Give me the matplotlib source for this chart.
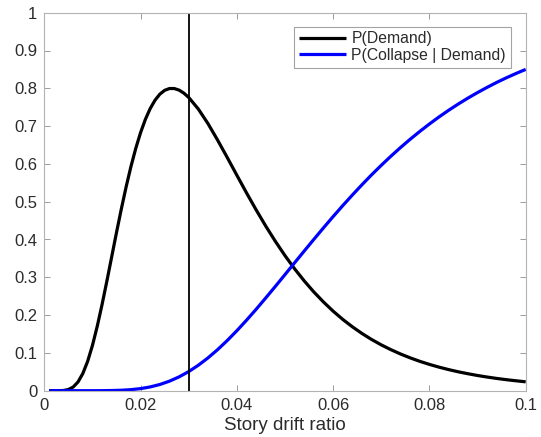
import matplotlib
matplotlib.use("Agg")
import matplotlib.pyplot as plt

plt.rcParams['font.family'] = ['Liberation Sans', 'DejaVu Sans']

# Story drift ratio values (x) for each curve
x_demand = [0.001, 0.002, 0.003, 0.004, 0.005, 0.006, 0.007, 0.008, 0.009, 0.010,
            0.011, 0.012, 0.013, 0.014, 0.015, 0.016, 0.017, 0.018, 0.019, 0.020,
            0.021, 0.022, 0.023, 0.024, 0.025, 0.026, 0.027, 0.028, 0.029, 0.030,
            0.032, 0.034, 0.036, 0.038, 0.040, 0.042, 0.044, 0.046, 0.048, 0.050,
            0.052, 0.054, 0.056, 0.058, 0.060, 0.062, 0.064, 0.066, 0.068, 0.070,
            0.072, 0.074, 0.076, 0.078, 0.080, 0.082, 0.084, 0.086, 0.088, 0.090,
            0.092, 0.094, 0.096, 0.098, 0.100]
p_demand = [0.0, 0.0, 0.0, 0.0006, 0.0031, 0.0097, 0.0231, 0.0454, 0.0776, 0.1197,
            0.1705, 0.2281, 0.2901, 0.3543, 0.4186, 0.4808, 0.5394, 0.5931, 0.6411, 0.6828,
            0.7179, 0.7465, 0.7685, 0.7845, 0.7946, 0.7994, 0.7994, 0.7952, 0.7871, 0.7758,
            0.7451, 0.7066, 0.6630, 0.6170, 0.5700, 0.5235, 0.4785, 0.4355, 0.3951, 0.3573,
            0.3224, 0.2904, 0.2611, 0.2346, 0.2104, 0.1886, 0.1690, 0.1513, 0.1354, 0.1212,
            0.1085, 0.0971, 0.0869, 0.0777, 0.0696, 0.0623, 0.0558, 0.0500, 0.0449, 0.0402,
            0.0361, 0.0324, 0.0291, 0.0262, 0.0235]

x_collapse = [0.001, 0.004, 0.008, 0.010, 0.012, 0.014, 0.016, 0.018, 0.020,
              0.022, 0.024, 0.026, 0.028, 0.030, 0.032, 0.034, 0.036, 0.038, 0.040,
              0.042, 0.044, 0.046, 0.048, 0.050, 0.052, 0.054, 0.056, 0.058, 0.060,
              0.062, 0.064, 0.066, 0.068, 0.070, 0.072, 0.074, 0.076, 0.078, 0.080,
              0.082, 0.084, 0.086, 0.088, 0.090, 0.092, 0.094, 0.096, 0.098, 0.100]
p_collapse = [0.0, 0.0, 0.0, 0.0, 0.0001, 0.0005, 0.0012, 0.0028, 0.0055,
              0.0100, 0.0164, 0.0252, 0.0366, 0.0506, 0.0674, 0.0868, 0.1086, 0.1327, 0.1587,
              0.1864, 0.2153, 0.2454, 0.2760, 0.3072, 0.3385, 0.3696, 0.4005, 0.4309, 0.4607,
              0.4897, 0.5178, 0.5450, 0.5713, 0.5963, 0.6204, 0.6433, 0.6652, 0.6859, 0.7056,
              0.7243, 0.7419, 0.7585, 0.7741, 0.7888, 0.8026, 0.8157, 0.8279, 0.8393, 0.8500]

threshold = 0.03

x_ticks = [0, 0.02, 0.04, 0.06, 0.08, 0.1]
x_tick_labels = ['0', '0.02', '0.04', '0.06', '0.08', '0.1']
y_ticks = [0, 0.1, 0.2, 0.3, 0.4, 0.5, 0.6, 0.7, 0.8, 0.9, 1]
y_tick_labels = ['0', '0.1', '0.2', '0.3', '0.4', '0.5', '0.6', '0.7', '0.8', '0.9', '1']

fig = plt.figure(figsize=(5.41, 4.37), dpi=100)
ax = fig.add_axes([44.3 / 541, 46.3 / 437, (525.7 - 44.3) / 541, (390.7 - 12.7) / 437])

ax.plot(x_demand, p_demand, color='black', lw=2.3, label='P(Demand)', solid_capstyle='butt')
ax.plot(x_collapse, p_collapse, color='#0000ff', lw=2.3, label='P(Collapse | Demand)', solid_capstyle='butt')
ax.axvline(threshold, color='black', lw=1.3)

ax.set_xlim(0, 0.1)
ax.set_ylim(0, 1)
ax.set_xticks(x_ticks)
ax.set_xticklabels(x_tick_labels)
ax.set_yticks(y_ticks)
ax.set_yticklabels(y_tick_labels)

text_color = '#2b2b2b'
for s in ax.spines.values():
    s.set_color('#b3b3b3')
    s.set_linewidth(0.8)
ax.tick_params(direction='in', length=4, width=0.6, color='#8c8c8c',
               labelsize=12, labelcolor=text_color, top=True, right=True, pad=5)
ax.set_xlabel('Story drift ratio', fontsize=13.5, color=text_color, labelpad=3)

leg = ax.legend(loc='upper right', bbox_to_anchor=(1 - 15 / 481.4, 1 - 14 / 378),
                borderaxespad=0, fontsize=11.3, frameon=True, fancybox=False,
                handlelength=3.0, handletextpad=0.35, labelspacing=0.1,
                borderpad=0.3)
leg.get_frame().set_edgecolor('#8c8c8c')
leg.get_frame().set_linewidth(0.8)
for t in leg.get_texts():
    t.set_color(text_color)

fig.savefig('out.png', dpi=100)
